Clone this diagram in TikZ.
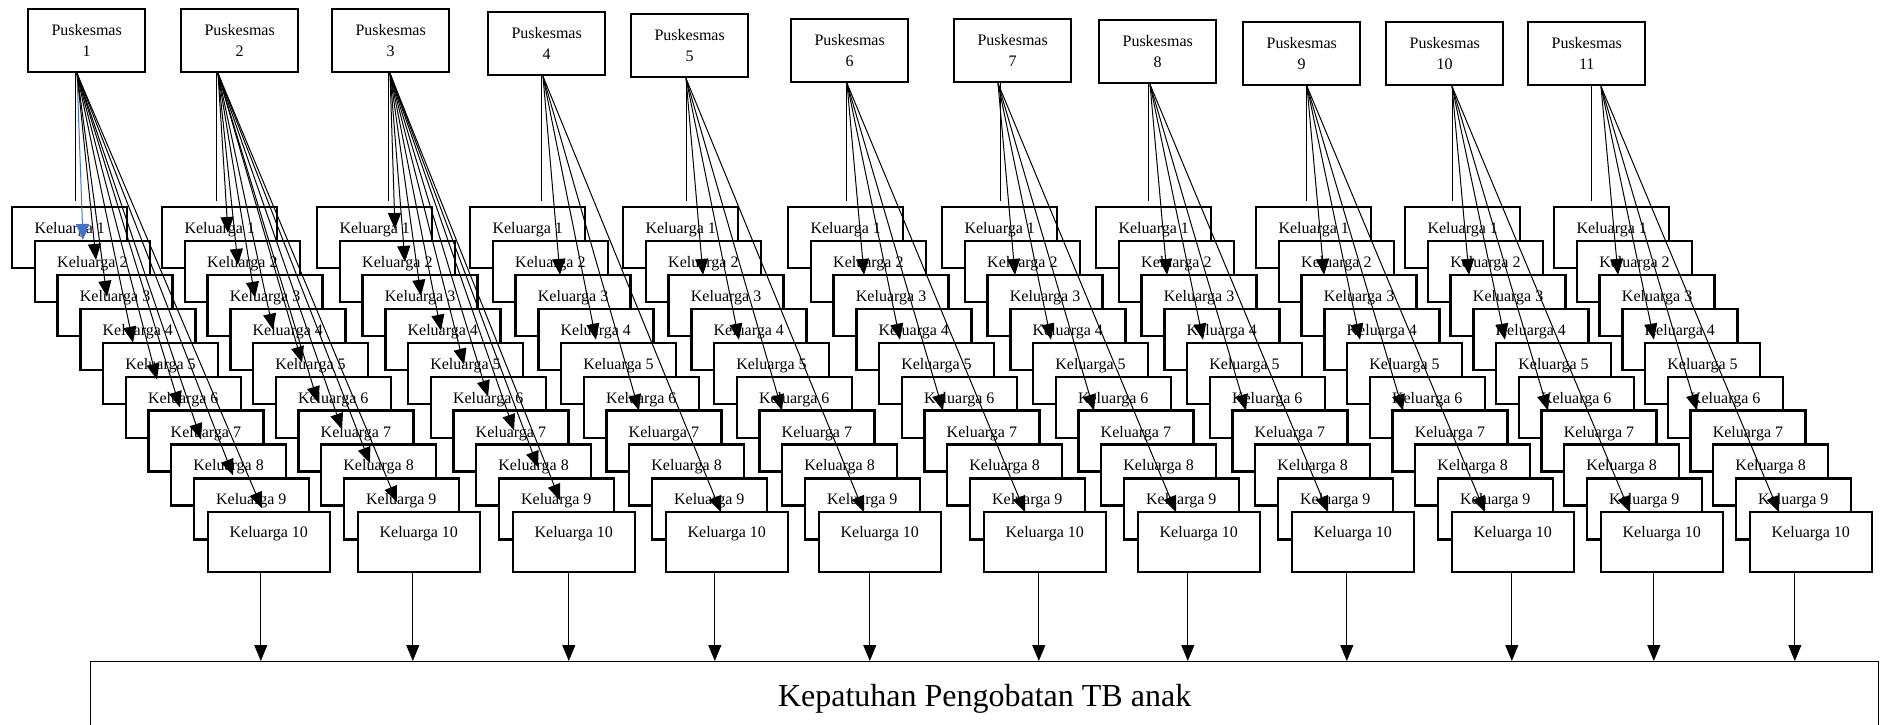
\documentclass[tikz,border=0pt]{standalone}
\usepackage{fontspec}
\setmainfont{Liberation Serif}
\usetikzlibrary{arrows.meta,calc}

\definecolor{linkblue}{RGB}{68,114,196}

\tikzset{every picture/.style={line width=0.75pt}}
\tikzset{
  pusk/.style={draw,line width=1.2pt,fill=white,anchor=north west,minimum width=58.5pt,minimum height=31.5pt,inner sep=0pt,align=center,font=\fontsize{8}{10.5}\selectfont},
  kel/.style={draw,line width=1.2pt,fill=white,anchor=north west,minimum width=57.5pt,inner sep=0pt,text height=13.2pt,text depth=17.3pt,font=\fontsize{8}{9.6}\selectfont},
  kelten/.style={kel,minimum width=61pt,text height=12.8pt,text depth=17.2pt},
  link/.style={line width=0.5pt},
  arr/.style={line width=0.5pt,-{Triangle[length=8pt,width=6.5pt]}},
}

\begin{document}
\begin{tikzpicture}[x=0.5pt,y=0.5pt,yscale=-1,xscale=1]
	\useasboundingbox (0,0) rectangle (1888,724);

	% Puskesmas and Keluarga boxes, one column each
	\foreach \c/\px/\py/\kx/\hx/\vx in {1/27/8/11/50/48, 2/180/8/161/38/36, 3/331/8/316/59/57, 4/487/11/469/56/54, 5/630/13/622/56/56, 6/790/18/787/57/56, 7/953/18/941/45/47, 8/1098/19/1095/52/50, 9/1242/21/1255/65/64, 10/1385/21/1404/67/67, 11/1527/21/1553/74/64} {
		% Text Node
		\node[pusk] (pusk\c) at (\px,\py) {Puskesmas\\\c};
		\foreach \k in {1,...,9} {
			\node[kel] (kel\c-\k) at ({\kx+(\k-1)*22.7},{206+(\k-1)*33.9}) {Keluarga \k};
		}
		\node[kelten] (kel\c-10) at ({\kx+195.6},511) {Keluarga 10};
		\path (pusk\c.south west) ++(\hx,0) coordinate (hub\c);
		\path (pusk\c.south west) ++(\vx,0) coordinate (top\c);
	}

	% Text Node
	\node[draw,line width=0.6pt,anchor=north west,minimum width=894pt,inner sep=0pt,text height=22.5pt,text depth=17.5pt,font=\fontsize{16}{19}\selectfont] (big) at (90,661) {Kepatuhan Pengobatan TB anak};

	%Straight Lines (Puskesmas to Keluarga 1)
	\foreach \c in {1,...,11} {
		\draw[link] (top\c) -- ($(top\c |- kel\c-1.north)+(0,-5)$);
	}

	%Straight Lines [col 1]
	\draw[arr,draw=linkblue] (hub1) -- ($(hub1 |- kel1-1.north)+(6,34)$);
	\foreach \k/\dx/\dy in {2/19/20, 3/30/23, 4/56/35, 5/80/38, 6/103/32, 7/124/30, 8/156/32, 9/185/31} {
		\draw[arr] (hub1) -- ($(hub1 |- kel1-\k.north)+(\dx,\dy)$);
	}
	%Straight Lines [col 2]
	\foreach \k/\dx/\dy in {1/10/27, 2/20/25, 3/37/24, 4/55/22, 5/84/21, 6/100/27, 7/124/20, 8/152/20, 9/179/25} {
		\draw[arr] (hub2) -- ($(hub2 |- kel2-\k.north)+(\dx,\dy)$);
	}
	%Straight Lines [col 3]
	\foreach \k/\dx/\dy in {1/5/23, 2/15/22, 3/31/22, 4/51/23, 5/74/23, 6/98/21, 7/124/21, 8/148/24, 9/170/23} {
		\draw[arr] (hub3) -- ($(hub3 |- kel3-\k.north)+(\dx,\dy)$);
	}
	%Straight Lines [col 4 to 11]
	\foreach \c in {4,...,11} {
		\foreach \k/\dx/\dy in {2/17/35, 4/53/32, 6/96/35, 9/178/35} {
			\draw[arr] (hub\c) -- ($(hub\c |- kel\c-\k.north)+(\dx,\dy)$);
		}
	}

	%Straight Lines (Keluarga 10 to Kepatuhan)
	\foreach \c/\bo in {1/-8, 2/-6, 3/-5, 4/-12, 5/-10, 6/-6, 7/-11, 8/-6, 9/-1, 10/-8, 11/-16} {
		\path ($(kel\c-10.south)+(\bo,0)$) coordinate (down\c);
		\draw[arr] (down\c) -- (down\c |- big.north);
	}

\end{tikzpicture}
\end{document}
